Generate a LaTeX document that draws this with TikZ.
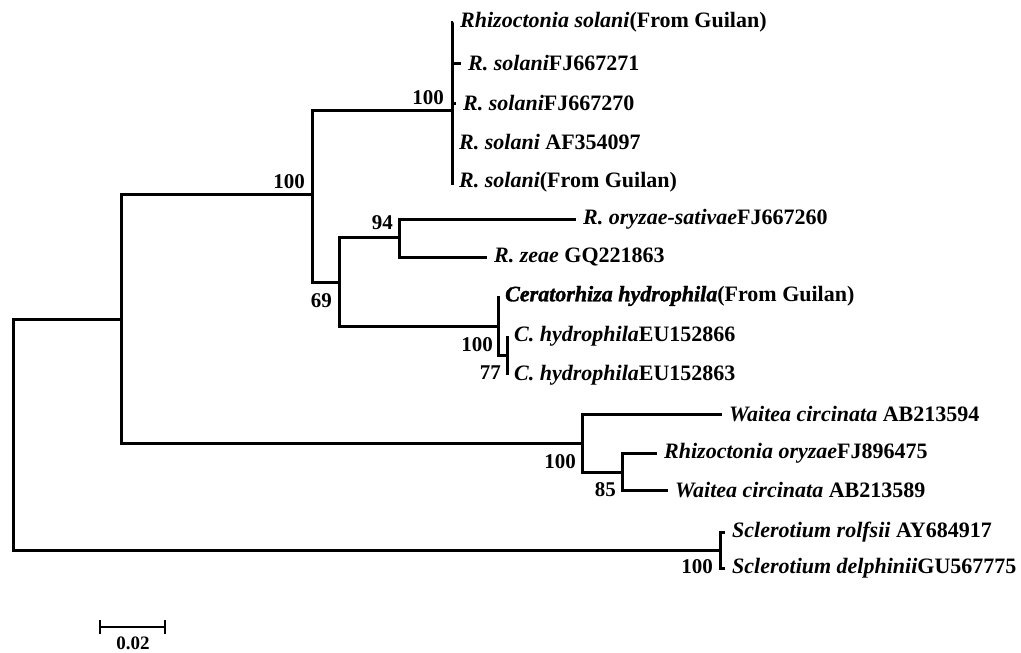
\documentclass[tikz,border=0pt]{standalone}
\usepackage{fontspec}
\setmainfont{Liberation Serif}
\newfontfamily\heavyfont[BoldItalicFeatures={FakeBold=1.5}]{Liberation Serif}
\begin{document}
\begin{tikzpicture}[x=1pt,y=-1pt,
	branch/.style={line width=3pt,line join=miter},
	taxon/.style={anchor=west,inner sep=0pt,xshift=7pt,font=\fontsize{22}{24}\selectfont\bfseries},
	boot/.style={anchor=east,inner sep=0pt,font=\fontsize{21}{23}\selectfont\bfseries}]
	   \useasboundingbox (0,0) rectangle (1021,653);
	   % internal nodes
	   \coordinate (root) at (13,435);
	   \coordinate (nA) at (121,319);
	   \coordinate (nB) at (312,194);
	   \coordinate (nRs) at (452,110);
	   \coordinate (nC) at (339,282);
	   \coordinate (nZ) at (399,237);
	   \coordinate (nH) at (498,326);
	   \coordinate (nH2) at (507,355);
	   \coordinate (nW) at (582,443);
	   \coordinate (nO) at (622,472);
	   \coordinate (nS) at (720,550);
	   % tips
	   \coordinate (t1) at (453,22);
	   \coordinate (t2) at (461,63);
	   \coordinate (t3) at (456,103);
	   \coordinate (t4) at (452,142);
	   \coordinate (t5) at (452,185);
	   \coordinate (tOs) at (576,219);
	   \coordinate (tZe) at (487,257);
	   \coordinate (tCh) at (498,296);
	   \coordinate (tE1) at (507,336);
	   \coordinate (tE2) at (507,375);
	   \coordinate (tW1) at (722,414);
	   \coordinate (tRo) at (657,453);
	   \coordinate (tW2) at (668,490);
	   \coordinate (tSr) at (725,532);
	   \coordinate (tSd) at (725,568);
	   % branches
	   \draw[branch] (root) |- (nA);
	   \draw[branch] (root) |- (nS);
	   \draw[branch] (nA) |- (nB);
	   \draw[branch] (nA) |- (nW);
	   \draw[branch] (nB) |- (nRs);
	   \draw[branch] (nB) |- (nC);
	   \draw[branch] (nRs) |- (t1);
	   \draw[branch] (nRs) |- (t2);
	   \draw[branch] (nRs) |- (t3);
	   \draw[branch] (nRs) |- (t4);
	   \draw[branch] (nRs) |- (t5);
	   \draw[branch] (nC) |- (nZ);
	   \draw[branch] (nC) |- (nH);
	   \draw[branch] (nZ) |- (tOs);
	   \draw[branch] (nZ) |- (tZe);
	   \draw[branch] (nH) |- (tCh);
	   \draw[branch] (nH) |- (nH2);
	   \draw[branch] (nH2) |- (tE1);
	   \draw[branch] (nH2) |- (tE2);
	   \draw[branch] (nW) |- (tW1);
	   \draw[branch] (nW) |- (nO);
	   \draw[branch] (nO) |- (tRo);
	   \draw[branch] (nO) |- (tW2);
	   \draw[branch] (nS) |- (tSr);
	   \draw[branch] (nS) |- (tSd);
	   % taxa
	   \node[taxon] (l1) at (t1) {\textit{Rhizoctonia solani}(From Guilan)};
	   \node[taxon] (l2) at (t2) {\textit{R. solani}FJ667271};
	   \node[taxon] (l3) at (t3) {\textit{R. solani}FJ667270};
	   \node[taxon] (l4) at (t4) {\textit{R. solani} AF354097};
	   \node[taxon] (l5) at ([yshift=3pt]t5) {\textit{R. solani}(From Guilan)};
	   \node[taxon] (lOs) at (tOs) {\textit{R. oryzae-sativae}FJ667260};
	   \node[taxon] (lZe) at (tZe) {\textit{R. zeae} GQ221863};
	   \node[taxon] (lCh) at (tCh) {{\heavyfont\bfseries\itshape Ceratorhiza hydrophila}(From Guilan)};
	   \node[taxon] (lE1) at (tE1) {\textit{C. hydrophila}EU152866};
	   \node[taxon] (lE2) at (tE2) {\textit{C. hydrophila}EU152863};
	   \node[taxon] (lW1) at (tW1) {\textit{Waitea circinata} AB213594};
	   \node[taxon] (lRo) at (tRo) {\textit{Rhizoctonia oryzae}FJ896475};
	   \node[taxon] (lW2) at (tW2) {\textit{Waitea circinata} AB213589};
	   \node[taxon] (lSr) at (tSr) {\textit{Sclerotium rolfsii} AY684917};
	   \node[taxon] (lSd) at (tSd) {\textit{Sclerotium delphinii}GU567775};
	   % bootstrap values
	   \node[boot] (bRs) at (444,98) {100};
	   \node[boot] (bB) at (305,182) {100};
	   \node[boot] (bC) at (332,301) {69};
	   \node[boot] (bZ) at (393,223) {94};
	   \node[boot] (bH) at (493,345) {100};
	   \node[boot] (bH2) at (501,373) {77};
	   \node[boot] (bW) at (576,462) {100};
	   \node[boot] (bO) at (616,490) {85};
	   \node[boot] (bS) at (713,567) {100};
	   % scale bar
	   \coordinate (sbL) at (100,627);
	   \coordinate (sbR) at (165,627);
	   \draw[line width=2pt] (sbL) -- (sbR);
	   \draw[line width=2pt] ([yshift=7pt]sbL) -- ([yshift=-7pt]sbL);
	   \draw[line width=2pt] ([yshift=7pt]sbR) -- ([yshift=-7pt]sbR);
	   \node[font=\fontsize{19}{21}\selectfont\bfseries,inner sep=0pt] (sbText) at (133,643) {0.02};
	\end{tikzpicture}
\end{document}
